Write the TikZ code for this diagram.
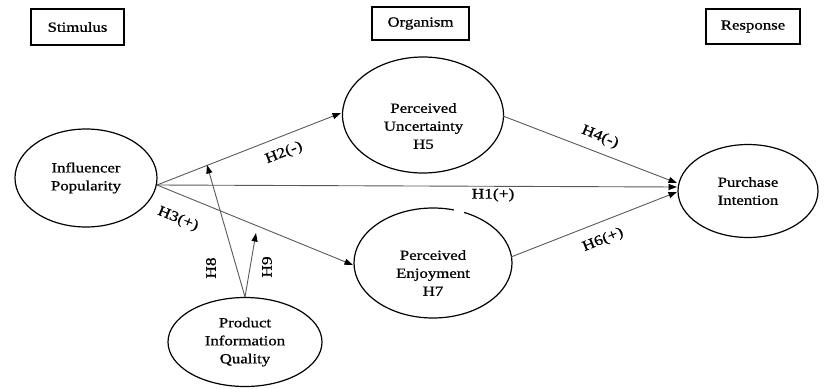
\documentclass[tikz,border=0pt]{standalone}
\usepackage{fontspec}
\setmainfont{Liberation Serif}[FakeStretch=1.2,FakeBold=0.8]
\usetikzlibrary{shapes.geometric,arrows.meta}
\begin{document}
\begin{tikzpicture}[x=1pt,y=-1pt,
  every node/.style={font=\fontsize{14}{18}\selectfont, align=center, inner sep=0pt},
  hdrbox/.style={draw=black, line width=1.3pt, inner sep=0pt},
  ell/.style={draw=black, ellipse, line width=1.2pt, inner sep=0pt},
  conn/.style={draw=black!65, line width=0.9pt, -{Triangle[length=8.5pt,width=6pt,black]}},
  lbl/.style={font=\fontsize{14.5}{18}\selectfont}
]
\useasboundingbox (0,0) rectangle (824,388);

% header boxes
\node[hdrbox, minimum width=93pt, minimum height=36pt] (stim) at (77.5,27) {Stimulus};
\node[hdrbox, minimum width=97pt, minimum height=33pt] (org) at (420.5,23.5) {Organism};
\node[hdrbox, minimum width=94pt, minimum height=35pt] (resp) at (753,26.5) {Response};

% ellipses
\node[ell, minimum width=142pt, minimum height=98pt] (ip) at (86,178) {Influencer\\Popularity};
\node[ell, minimum width=161pt, minimum height=116pt] (pu) at (423,115) {};
\node (put) at (423.5,126) {Perceived\\Uncertainty\\H5};
\node[ell, minimum width=158pt, minimum height=110pt] (pe) at (433,263) {};
\node (pet) at (433,273) {Perceived\\Enjoyment\\H7};
\fill[white] (454,203) rectangle (464,213);
\node[ell, minimum width=154pt, minimum height=89pt] (piq) at (245,342) {Product\\Information\\Quality};
\node[ell, minimum width=140pt, minimum height=93pt] (pi) at (748,191) {Purchase\\Intention};

% connector points
\coordinate (ipo) at (157,185);
\coordinate (h4s) at (503,116);
\coordinate (h6s) at (511,257);
\coordinate (in4) at (677,183);
\coordinate (in1) at (677,187);
\coordinate (in6) at (677,192);
\coordinate (h2e) at (341,113);
\coordinate (h3e) at (353,265);
\coordinate (h8e) at (207,165);
\coordinate (h9e) at (256,233);

% connectors
\draw[conn] (ipo) -- (h2e);
\draw[conn] (ipo) -- (h3e);
\draw[conn] (ipo) -- (in1);
\draw[conn] (h4s) -- (in4);
\draw[conn] (h6s) -- (in6);
\draw[conn] (piq.north) -- (h8e);
\draw[conn] (piq.north) -- (h9e);

% labels
\node[lbl, rotate=21.5] (l2) at (284,153) {H2(-)};
\node[lbl, rotate=-22] (l3) at (178,219) {H3(+)};
\node[lbl] (l1) at (493,195) {H1(+)};
\node[lbl, rotate=-22] (l4) at (600,137) {H4(-)};
\node[lbl, rotate=22] (l6) at (603,240) {H6(+)};
\node[lbl, rotate=90] (l8) at (211,268) {H8};
\node[lbl, rotate=90] (l9) at (267,267) {H9};
\end{tikzpicture}
\end{document}
